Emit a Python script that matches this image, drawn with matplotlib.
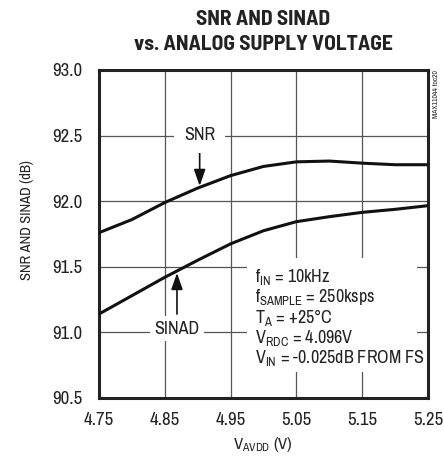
import numpy as np
import matplotlib
matplotlib.use('Agg')
import matplotlib.pyplot as plt
from matplotlib.patches import Rectangle

plt.rcParams['font.family'] = ['Archivo Narrow', 'DejaVu Sans']
plt.rcParams['mathtext.fontset'] = 'custom'
plt.rcParams['mathtext.rm'] = 'Archivo Narrow'
plt.rcParams['mathtext.default'] = 'regular'
title_font = ['Barlow Semi Condensed', 'DejaVu Sans']

# data
vavdd = [4.75, 4.80, 4.85, 4.90, 4.95, 5.00, 5.05, 5.10, 5.15, 5.20, 5.25]
snr = [91.76, 91.86, 91.99, 92.10, 92.195, 92.265, 92.30, 92.306, 92.29, 92.278, 92.278]
sinad = [91.14, 91.28, 91.42, 91.55, 91.675, 91.775, 91.844, 91.882, 91.915, 91.938, 91.966]

xticks = [4.75, 4.85, 4.95, 5.05, 5.15, 5.25]
xticklabels = ['4.75', '4.85', '4.95', '5.05', '5.15', '5.25']
yticks = [90.5, 91.0, 91.5, 92.0, 92.5, 93.0]
yticklabels = ['90.5', '91.0', '91.5', '92.0', '92.5', '93.0']

conditions = [r'f$_{IN}$ = 10kHz',
              r'f$_{SAMPLE}$ = 250ksps',
              r'T$_{A}$ = +25°C',
              r'V$_{RDC}$ = 4.096V',
              r'V$_{IN}$ = -0.025dB FROM FS']

fig = plt.figure(figsize=(4.44, 4.57), dpi=100)
ax = fig.add_axes([99/444, 1-398/457, 329/444, 328/457])

ax.plot(vavdd, snr, color='#111111', lw=2.2, zorder=3)
ax.plot(vavdd, sinad, color='#111111', lw=2.2, zorder=3)

ax.set_xlim(4.75, 5.25)
ax.set_ylim(90.5, 93.0)
ax.set_xticks(xticks)
ax.set_xticklabels(xticklabels)
ax.set_yticks(yticks)
ax.set_yticklabels(yticklabels)
ax.tick_params(length=0, labelsize=13.5, colors='#222222')
ax.tick_params(axis='x', pad=10)
ax.tick_params(axis='y', pad=12)
ax.set_axisbelow(True)
ax.grid(True, color='#555555', lw=0.9)
for s in ax.spines.values():
    s.set_linewidth(2.2)
    s.set_color('#222222')

# white box behind the conditions text
ax.add_patch(Rectangle((4.975, 90.70), 0.258, 0.87, facecolor='white',
                       edgecolor='none', zorder=1))
y0 = 91.384
for i, t in enumerate(conditions):
    ax.text(4.987, y0 - i*0.155, t, fontsize=13, va='baseline', ha='left',
            color='#222222', zorder=4)

# curve labels with arrows
ax.annotate('', xy=(4.903, 92.116), xytext=(4.903, 92.41),
            arrowprops=dict(arrowstyle='-|>,head_length=1.0,head_width=0.35',
                            color='#111111', lw=1.2, shrinkA=0, shrinkB=0))
ax.text(4.903, 92.466, 'SNR', fontsize=13, ha='center', va='baseline',
        color='#222222', zorder=4,
        bbox=dict(boxstyle='square,pad=0.55', fc='white', ec='none'))
ax.annotate('', xy=(4.8685, 91.453), xytext=(4.8685, 91.14),
            arrowprops=dict(arrowstyle='-|>,head_length=1.0,head_width=0.35',
                            color='#111111', lw=1.2, shrinkA=0, shrinkB=0))
ax.text(4.8685, 90.99, 'SINAD', fontsize=13, ha='center', va='baseline',
        color='#222222', zorder=4,
        bbox=dict(boxstyle='square,pad=0.25', fc='white', ec='none'))

# titles and labels
ax.text(0.5, 1.137, 'SNR AND SINAD', transform=ax.transAxes, ha='center',
        va='baseline', fontsize=15.5, fontweight='bold', color='#222222',
        family=title_font)
ax.text(0.5, 1.061, 'vs. ANALOG SUPPLY VOLTAGE', transform=ax.transAxes,
        ha='center', va='baseline', fontsize=15.5, fontweight='bold', color='#222222',
        family=title_font)
fig.text(27/444, 1-220/457, 'SNR AND SINAD (dB)', rotation=90, ha='center',
         va='center', fontsize=10.5, color='#222222')
fig.text(263/444, 1-444/457, r'V$_{AVDD}$ (V)', ha='center', va='center',
         fontsize=12, color='#222222')
fig.text(436/444, 1-70/457, 'MAX11044 toc20', rotation=90, ha='center',
         va='top', fontsize=5.5, color='#222222')

fig.savefig('out.png', dpi=100)
